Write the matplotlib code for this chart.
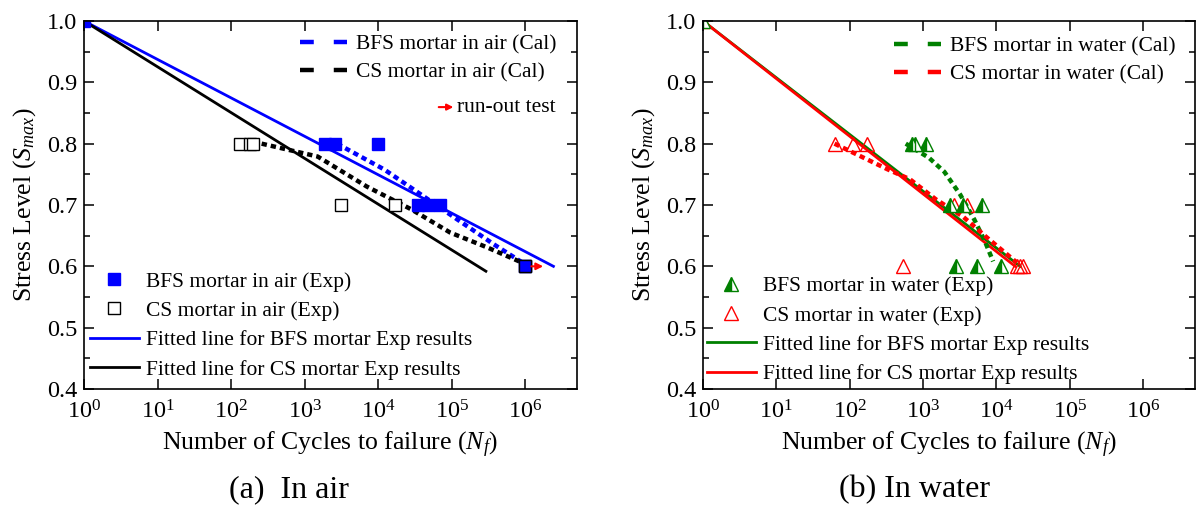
import numpy as np
import matplotlib
matplotlib.use('Agg')
import matplotlib.pyplot as plt
from matplotlib.lines import Line2D

plt.rcParams['font.family'] = 'Liberation Serif'
plt.rcParams['mathtext.fontset'] = 'custom'
plt.rcParams['mathtext.rm'] = 'Liberation Serif'
plt.rcParams['mathtext.it'] = 'Liberation Serif:italic'
plt.rcParams['font.size'] = 15.5

# ---- (a) in air ----
bfs_air_N = [1, 1.9e3, 2.6e3, 1.0e4, 3.5e4, 4.8e4, 6.8e4, 1.0e6]
bfs_air_S = [1.0, 0.8, 0.8, 0.8, 0.7, 0.7, 0.7, 0.6]
cs_air_N = [1.3e2, 1.8e2, 2.0e2, 3.1e3, 1.7e4, 1.0e6]
cs_air_S = [0.8, 0.8, 0.8, 0.7, 0.7, 0.6]

bfs_air_fit_N = [1, 2.4e6]
bfs_air_fit_S = [1.0, 0.6]
cs_air_fit_N = [1, 2.9e5]
cs_air_fit_S = [1.0, 0.592]

bfs_air_cal_N = [2.75e3, 1.2e4, 2.8e4, 1.2e5, 3.7e5, 1.0e6]
bfs_air_cal_S = [0.8, 0.758, 0.728, 0.676, 0.636, 0.603]
cs_air_cal_N = [2.6e2, 1.5e3, 7.0e3, 2.8e4, 9.5e4, 3.0e5, 9.0e5]
cs_air_cal_S = [0.8, 0.779, 0.73, 0.693, 0.655, 0.631, 0.606]

runout_N = 1.0e6
runout_S = 0.6

# ---- (b) in water ----
bfs_wat_N = [1, 7.0e2, 7.8e2, 1.1e3, 2.3e3, 3.5e3, 6.3e3, 2.8e3, 5.5e3, 1.15e4]
bfs_wat_S = [1.0, 0.8, 0.8, 0.8, 0.7, 0.7, 0.7, 0.6, 0.6, 0.6]
cs_wat_N = [1, 62, 1.1e2, 1.7e2, 2.6e3, 4.0e3, 5.4e2, 1.9e4, 2.1e4, 2.3e4]
cs_wat_S = [1.0, 0.8, 0.8, 0.8, 0.7, 0.7, 0.6, 0.6, 0.6, 0.6]

bfs_wat_fit_N = [1, 2.1e4]
bfs_wat_fit_S = [1.0, 0.6]
cs_wat_fit_N = [1, 1.8e4]
cs_wat_fit_S = [1.0, 0.6]

bfs_wat_cal_N = [5.8e2, 1.2e3, 1.95e3, 3.2e3, 5.0e3, 7.0e3, 9.0e3]
bfs_wat_cal_S = [0.8, 0.777, 0.754, 0.717, 0.676, 0.64, 0.608]
cs_wat_cal_N = [62, 3.3e2, 6.6e2, 1.5e3, 3.5e3, 7.4e3, 1.9e4]
cs_wat_cal_S = [0.8, 0.758, 0.742, 0.709, 0.681, 0.647, 0.606]

xticks = [1e0, 1e1, 1e2, 1e3, 1e4, 1e5, 1e6]

fig = plt.figure(figsize=(11.96, 5.17), dpi=100)
ax1 = fig.add_axes([0.0702, 0.2476, 0.4122, 0.7118])
ax2 = fig.add_axes([0.5878, 0.2476, 0.4110, 0.7118])

cal_dash = (0, (1.2, 0.9))
leg_dash = (0, (3.1, 4.5))


def style_axis(ax):
    ax.set_xscale('log')
    ax.set_xlim(1, 10 ** 6.7)
    ax.set_ylim(0.4, 1.0)
    ax.set_xticks(xticks)
    ax.xaxis.set_minor_locator(matplotlib.ticker.NullLocator())
    ax.set_yticks(np.arange(0.4, 1.01, 0.1))
    ax.set_yticks(np.arange(0.45, 1.0, 0.1), minor=True)
    ax.set_yticklabels(['0.4', '0.5', '0.6', '0.7', '0.8', '0.9', '1.0'])
    ax.tick_params(which='both', direction='in', top=True, right=True, labelsize=17.5, width=1.1)
    ax.tick_params(which='major', length=7, pad=5)
    ax.tick_params(axis='x', which='major', pad=8)
    ax.tick_params(which='minor', length=4)
    for s in ax.spines.values():
        s.set_linewidth(1.2)
    ax.set_xlabel(r'Number of Cycles to failure ($N_f$)', fontsize=18.5, labelpad=5)
    ax.set_ylabel(r'Stress Level ($S_{max}$)', fontsize=18.5, labelpad=6)


# panel (a)
ax1.plot(bfs_air_fit_N, bfs_air_fit_S, color='#0000ff', lw=2)
ax1.plot(cs_air_fit_N, cs_air_fit_S, color='black', lw=2)
ax1.plot(bfs_air_cal_N, bfs_air_cal_S, color='#0000ff', lw=3.2, linestyle=cal_dash)
ax1.plot(cs_air_cal_N, cs_air_cal_S, color='black', lw=3.2, linestyle=cal_dash)
ax1.plot(cs_air_N, cs_air_S, 's', ms=8, mfc='white', mec='black', mew=1)
ax1.plot(bfs_air_N, bfs_air_S, 's', ms=9, mfc='#0000ff', mec='#0000ff', mew=1)
ax1.plot([runout_N], [runout_S], 's', ms=9, mfc='#0000ff', mec='black', mew=1)
ax1.annotate('', xy=(runout_N * 1.9, runout_S), xytext=(runout_N * 1.1, runout_S),
             arrowprops=dict(arrowstyle='-|>', color='red', lw=1.5, mutation_scale=10))
style_axis(ax1)

h_cal = [Line2D([], [], color='#0000ff', lw=3.2, linestyle=leg_dash),
         Line2D([], [], color='black', lw=3.2, linestyle=leg_dash)]
leg1 = ax1.legend(h_cal, ['BFS mortar in air (Cal)', 'CS mortar in air (Cal)'],
                  loc='upper right', bbox_to_anchor=(0.998, 1.015), frameon=False,
                  handlelength=2.2, handletextpad=0.4, labelspacing=0.35, fontsize=15.5)
ax1.add_artist(leg1)
h_exp = [Line2D([], [], marker='s', ms=9, color='#0000ff', lw=0),
         Line2D([], [], marker='s', ms=8, mfc='white', mec='black', lw=0),
         Line2D([], [], color='#0000ff', lw=2),
         Line2D([], [], color='black', lw=2)]
ax1.legend(h_exp, ['BFS mortar in air (Exp)', 'CS mortar in air (Exp)',
                   'Fitted line for BFS mortar Exp results', 'Fitted line for CS mortar Exp results'],
           loc='lower left', bbox_to_anchor=(-0.028, -0.027), frameon=False,
           handlelength=2.3, handletextpad=0.3, labelspacing=0.43, fontsize=15.5)
ax1.annotate('', xy=(0.755, 0.766), xytext=(0.714, 0.766), xycoords='axes fraction',
             arrowprops=dict(arrowstyle='-|>', color='red', lw=1.5, mutation_scale=9))
ax1.text(0.757, 0.766, 'run-out test', transform=ax1.transAxes, fontsize=15.5, va='center', ha='left')

# panel (b)
ax2.plot(bfs_wat_fit_N, bfs_wat_fit_S, color='#008000', lw=2)
ax2.plot(cs_wat_fit_N, cs_wat_fit_S, color='#ff0000', lw=2)
ax2.plot(bfs_wat_cal_N, bfs_wat_cal_S, color='#008000', lw=3.2, linestyle=cal_dash)
ax2.plot(cs_wat_cal_N, cs_wat_cal_S, color='#ff0000', lw=3.2, linestyle=cal_dash)
ax2.plot(cs_wat_N, cs_wat_S, '^', ms=10, mfc='none', mec='#ff0000', mew=1)
ax2.plot(bfs_wat_N, bfs_wat_S, '^', ms=10, fillstyle='left', mfc='#008000',
         mfcalt='white', mec='#008000', mew=1)
style_axis(ax2)

h_cal2 = [Line2D([], [], color='#008000', lw=3.2, linestyle=leg_dash),
          Line2D([], [], color='#ff0000', lw=3.2, linestyle=leg_dash)]
leg2 = ax2.legend(h_cal2, ['BFS mortar in water (Cal)', 'CS mortar in water (Cal)'],
                  loc='upper right', bbox_to_anchor=(1.0, 1.01), frameon=False,
                  handlelength=2.2, handletextpad=0.4, labelspacing=0.35, fontsize=15.5)
ax2.add_artist(leg2)
h_exp2 = [Line2D([], [], marker='^', ms=10, fillstyle='left', mfc='#008000',
                 mfcalt='white', mec='#008000', lw=0),
          Line2D([], [], marker='^', ms=10, mfc='none', mec='#ff0000', lw=0),
          Line2D([], [], color='#008000', lw=2),
          Line2D([], [], color='#ff0000', lw=2)]
ax2.legend(h_exp2, ['BFS mortar in water (Exp)', 'CS mortar in water (Exp)',
                    'Fitted line for BFS mortar Exp results', 'Fitted line for CS mortar Exp results'],
           loc='lower left', bbox_to_anchor=(-0.032, -0.04), frameon=False,
           handlelength=2.3, handletextpad=0.3, labelspacing=0.43, fontsize=15.5)

fig.text(0.242, 0.025, '(a)  In air', fontsize=23, ha='center', va='bottom')
fig.text(0.765, 0.025, '(b) In water', fontsize=23, ha='center', va='bottom')

fig.savefig('out.png', dpi=100)
